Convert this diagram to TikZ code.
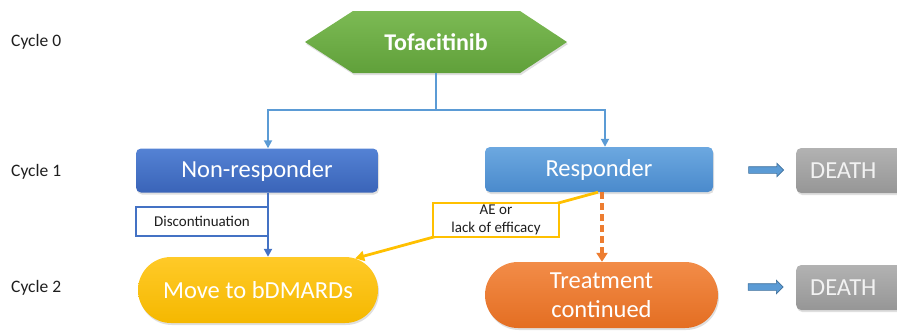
\documentclass[tikz,border=0pt]{standalone}
\usepackage{fontspec}
\setmainfont{Carlito}
\usetikzlibrary{shapes.arrows,shapes.misc,shadows,arrows.meta}
\definecolor{cgreenT}{RGB}{124,186,84}
\definecolor{cgreenB}{RGB}{96,160,58}
\definecolor{cnavyT}{RGB}{84,130,212}
\definecolor{cnavyB}{RGB}{58,100,184}
\definecolor{cskyT}{RGB}{108,168,224}
\definecolor{cskyB}{RGB}{74,138,204}
\definecolor{cgoldT}{RGB}{255,202,40}
\definecolor{cgoldB}{RGB}{245,184,0}
\definecolor{corgT}{RGB}{242,140,72}
\definecolor{corgB}{RGB}{228,110,34}
\definecolor{cgreyT}{RGB}{178,178,178}
\definecolor{cgreyB}{RGB}{150,150,150}
\definecolor{clink}{RGB}{91,155,213}
\definecolor{cnavy}{RGB}{68,114,196}
\definecolor{cgold}{RGB}{255,192,0}
\definecolor{corange}{RGB}{237,125,49}
\definecolor{carrowedge}{RGB}{65,113,156}
\definecolor{ctext}{RGB}{30,30,30}
\begin{document}
\begin{tikzpicture}[x=1pt,y=-1pt,
  shad/.style={drop shadow={opacity=0.25,shadow xshift=1pt,shadow yshift=-2pt}},
  bigtxt/.style={font=\fontsize{24.5}{29}\selectfont,text=white,align=center},
  stepbox/.style={shad,bigtxt,rectangle,rounded corners=5pt,inner sep=0pt},
  pillbox/.style={shad,bigtxt,rounded rectangle,inner sep=0pt,minimum height=66pt},
  deathbox/.style={stepbox,top color=cgreyT,bottom color=cgreyB,text=white!95!black,minimum width=114pt,minimum height=45pt,text width=114pt,align=left,anchor=west,inner xsep=0pt},
  smalltxt/.style={font=\fontsize{15}{17.5}\selectfont,text=ctext,align=center,fill=white,inner sep=0pt,line width=1.6pt},
  cyclelbl/.style={font=\fontsize{17.5}{20}\selectfont,text=ctext,anchor=west,inner sep=0pt},
  bluelink/.style={draw=clink,line width=1.8pt,-{Triangle[length=8pt,width=8pt]}},
  blockarrow/.style={single arrow,fill=clink,draw=carrowedge,line width=0.6pt,minimum height=35pt,inner sep=3pt,single arrow head extend=3.5pt,single arrow head indent=0pt}
]
\useasboundingbox (0,0) rectangle (897,330);
\clip (0,0) rectangle (897,330);

% cycle labels
\node[cyclelbl] (c0) at (11,42) {Cycle 0};
\node[cyclelbl] (c1) at (11,172) {Cycle 1};
\node[cyclelbl] (c2) at (11,288) {Cycle 2};

% hexagon
\shade[top color=cgreenT,bottom color=cgreenB,shad]
  (305,42) -- (353,11) -- (520,11) -- (567,42) -- (520,73) -- (353,73) -- cycle;
\node[font=\fontsize{24}{29}\selectfont\bfseries,text=white,minimum width=262pt,minimum height=62pt,inner sep=0pt] (tofa) at (436,42) {Tofacitinib};

% cycle 1
\node[stepbox,top color=cnavyT,bottom color=cnavyB,minimum width=242pt,minimum height=44pt] (nonresp) at (257,170.5) {Non-responder};
\node[stepbox,top color=cskyT,bottom color=cskyB,minimum width=228pt,minimum height=45pt] (resp) at (599,169.5) {Responder};
\node[deathbox] (death1) at (796,170.5) {\hspace*{14pt}DEATH};
\node[blockarrow] (ar1) at (764.5,170) {};

% cycle 2
\node[pillbox,top color=cgoldT,bottom color=cgoldB,minimum width=240pt] (move) at (258,290) {Move to bDMARDs};
\node[pillbox,top color=corgT,bottom color=corgB,minimum width=233pt] (treat) at (601.5,295) {Treatment\\continued};
\node[deathbox] (death2) at (796,287.5) {\hspace*{14pt}DEATH};
\node[blockarrow] (ar2) at (764,287) {};

% connectors from Tofacitinib
\coordinate (split) at (436,110);
\draw[bluelink] (tofa.south) -- (split) -| ([xshift=11pt]nonresp.north);
\draw[bluelink] (split) -| ([xshift=6pt]resp.north);

% non-responder to bDMARDs
\draw[draw=cnavy,line width=2pt,-{Triangle[length=8pt,width=8pt]}]
  ([xshift=11pt]nonresp.south) -- ([xshift=11pt]nonresp.south |- move.north);
\node[smalltxt,draw=cnavy,minimum width=132pt,minimum height=29pt] (disc) at (202,221.5) {Discontinuation};

% responder to bDMARDs (AE)
\draw[draw=cgold,line width=2.8pt,-{Triangle[length=9pt,width=10pt]}]
  ([xshift=-1pt]resp.south) -- (move.18);
\node[smalltxt,draw=cgold,minimum width=126pt,minimum height=34pt] (ae) at (496,220) {AE or\\lack of efficacy};

% responder to treatment continued
\draw[draw=corange,line width=3.2pt,dash pattern=on 7pt off 4pt,-{Triangle[length=9pt,width=11pt]}]
  ([xshift=3pt]resp.south) -- ([xshift=3pt]resp.south |- treat.north);

\end{tikzpicture}
\end{document}
